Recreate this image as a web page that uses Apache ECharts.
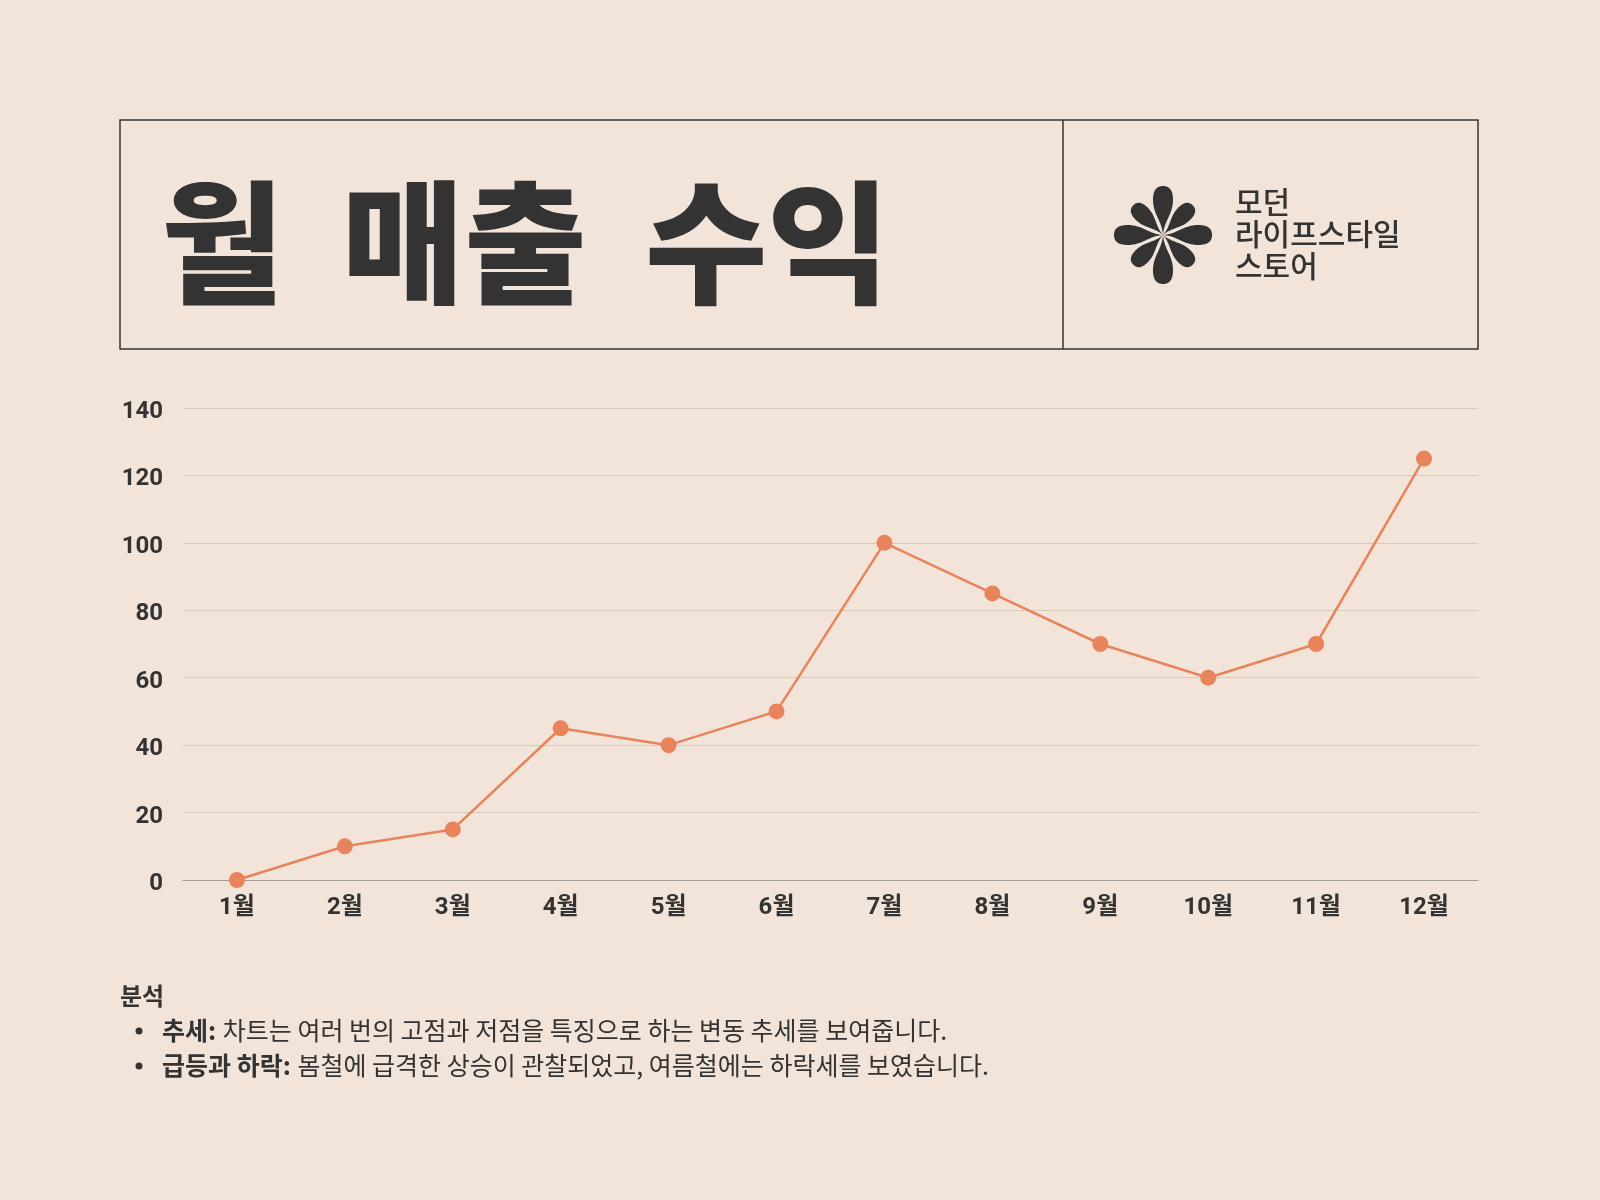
<!DOCTYPE html>
<html>
<head>
<meta charset="utf-8">
<script src="https://cdn.jsdelivr.net/npm/echarts@6/dist/echarts.min.js"></script>
<style>
  html, body { margin: 0; padding: 0; background: #F2E4D8; }
  #chart { width: 1600px; height: 1200px; }
</style>
</head>
<body>
<div id="chart"></div>
<script>
const months = ['1월','2월','3월','4월','5월','6월','7월','8월','9월','10월','11월','12월'];
const revenue = [0, 10, 15, 45, 40, 50, 100, 85, 70, 60, 70, 125];
const titleWords = ['월', '매출', '수익'];
const brandLines = ['모던', '라이프스타일', '스토어'];
const analysisHeading = '분석';
const analysisItems = [
  ['추세:', '차트는 여러 번의 고점과 저점을 특징으로 하는 변동 추세를 보여줍니다.'],
  ['급등과 하락:', '봄철에 급격한 상승이 관찰되었고, 여름철에는 하락세를 보였습니다.']
];

const INK = '#333333';
const ACCENT = '#E8845C';
const KR = '"Noto Sans CJK KR", "Noto Sans", sans-serif';

// teardrop petal sampled from cubic curves
function bez(p0, p1, p2, p3, t) {
  const u = 1 - t;
  return [
    u*u*u*p0[0] + 3*u*u*t*p1[0] + 3*u*t*t*p2[0] + t*t*t*p3[0],
    u*u*u*p0[1] + 3*u*u*t*p1[1] + 3*u*t*t*p2[1] + t*t*t*p3[1]
  ];
}
function petal(cx, cy, ang, L, w) {
  const dx = Math.cos(ang), dy = Math.sin(ang);
  const px = -dy, py = dx;
  const p = (t, s) => [cx + t * L * dx + s * w * px, cy + t * L * dy + s * w * py];
  const segs = [
    [p(0, 0), p(0.3, 0.12), p(0.42, 1), p(0.72, 1)],
    [p(0.72, 1), p(0.92, 1), p(1, 0.62), p(1, 0)],
    [p(1, 0), p(1, -0.62), p(0.92, -1), p(0.72, -1)],
    [p(0.72, -1), p(0.42, -1), p(0.3, -0.12), p(0, 0)]
  ];
  const pts = [];
  segs.forEach(s => { for (let i = 0; i < 16; i++) pts.push(bez(s[0], s[1], s[2], s[3], i / 16)); });
  return pts;
}
const fcx = 1163, fcy = 235;

const graphics = [
  { type: 'rect', shape: { x: 120, y: 120, width: 1358, height: 229 },
    style: { fill: 'none', stroke: INK, lineWidth: 1.5 } },
  { type: 'line', shape: { x1: 1063, y1: 120, x2: 1063, y2: 349 },
    style: { stroke: INK, lineWidth: 1.5 } },
  { type: 'text', x: 161, y: 242,
    style: { text: titleWords.map(w => '{t|' + w + '}').join('{s| }'),
      align: 'left', textAlign: 'left', verticalAlign: 'middle', textVerticalAlign: 'middle',
      rich: {
        t: { fontSize: 133, fontWeight: 900, fontFamily: KR, fill: INK, color: INK, lineHeight: 160 },
        s: { fontSize: 133, fontWeight: 900, fontFamily: KR, fill: INK, color: INK, lineHeight: 160, padding: [0, 14, 0, 14] }
      } } }
];
for (let i = 0; i < 8; i++) {
  const major = i % 2 === 0;
  graphics.push({ type: 'polygon',
    shape: { points: petal(fcx, fcy, i * Math.PI / 4 - Math.PI / 2, major ? 49 : 42, major ? 10 : 8.5) },
    style: { fill: INK } });
}
brandLines.forEach((t, i) => {
  graphics.push({ type: 'text', x: 1235, y: 202 + i * 32,
    style: { text: t, font: '500 30px ' + KR, fill: INK,
      align: 'left', textAlign: 'left', verticalAlign: 'middle', textVerticalAlign: 'middle' } });
});
graphics.push({ type: 'text', x: 120, y: 996,
  style: { text: analysisHeading, font: 'bold 24px ' + KR, fill: INK,
    align: 'left', textAlign: 'left', verticalAlign: 'middle', textVerticalAlign: 'middle' } });
analysisItems.forEach((it, i) => {
  const y = 1030 + i * 35;
  graphics.push({ type: 'circle', shape: { cx: 139, cy: y + 1, r: 3.5 }, style: { fill: INK } });
  graphics.push({ type: 'text', x: 162, y: y,
    style: { text: '{b|' + it[0] + '}  {n|' + it[1] + '}',
      align: 'left', textAlign: 'left', verticalAlign: 'middle', textVerticalAlign: 'middle',
      rich: {
        b: { fill: INK, color: INK, fontFamily: KR, fontWeight: 'bold', fontSize: 25 },
        n: { fill: INK, color: INK, fontFamily: KR, fontWeight: 'normal', fontSize: 25 }
      } } });
});

const chart = echarts.init(document.getElementById('chart'), null, { renderer: 'canvas' });
chart.setOption({
  backgroundColor: '#F2E4D8',
  animation: false,
  grid: { left: 183, right: 122, top: 408, bottom: 320 },
  xAxis: {
    type: 'category',
    data: months,
    boundaryGap: true,
    axisLine: { show: true, lineStyle: { color: '#A59C94', width: 1.2 } },
    axisTick: { show: false },
    axisLabel: { color: INK, fontSize: 24, fontWeight: 'bold', fontFamily: 'Roboto, ' + KR, margin: 16 },
    splitLine: { show: false }
  },
  yAxis: {
    type: 'value',
    min: 0, max: 140, interval: 20,
    axisLine: { show: false },
    axisTick: { show: false },
    axisLabel: { color: INK, fontSize: 24, fontWeight: 'bold', fontFamily: 'Roboto, ' + KR, margin: 20,
      formatter: '{v|{value}}', rich: { v: { fontSize: 24, fontWeight: 'bold', fontFamily: 'Roboto, ' + KR, color: INK, padding: [8, 0, 0, 0] } } },
    splitLine: { show: true, lineStyle: { color: '#D8CABD', width: 1.2 } }
  },
  series: [{
    type: 'line',
    data: revenue,
    symbol: 'circle',
    symbolSize: 16,
    itemStyle: { color: ACCENT },
    lineStyle: { color: ACCENT, width: 2.5 },
    z: 5
  }],
  graphic: { elements: graphics }
});
</script>
</body>
</html>
